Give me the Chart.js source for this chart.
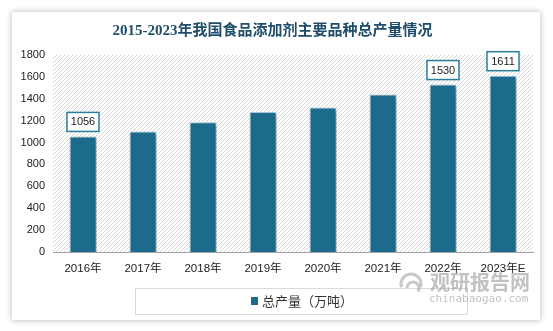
<!DOCTYPE html>
<html lang="zh">
<head>
    <meta charset="UTF-8">
    <title>2015-2023年我国食品添加剂主要品种总产量情况</title>
    <script src="https://cdn.jsdelivr.net/npm/chart.js"></script>
    <style>
        body {
            margin: 0;
            background-color: #ffffff;
        }
        .card {
            position: absolute;
            left: 12px;
            top: 12px;
            width: 528px;
            height: 308px;
            background-color: #ffffff;
            box-shadow: 0 0 6px rgba(0, 0, 0, 0.3);
        }
    </style>
</head>
<body>
    <div class="card"><canvas id="chart"></canvas></div>
    <script>
        // chart data
        const years = ['2016年', '2017年', '2018年', '2019年', '2020年', '2021年', '2022年', '2023年E'];
        const output = [1056, 1100, 1185, 1280, 1320, 1440, 1530, 1611];
        const showValue = [true, false, false, false, false, false, true, true];
        const seriesName = '总产量（万吨）';
        const yTicks = [0, 200, 400, 600, 800, 1000, 1200, 1400, 1600, 1800];

        const barColor = '#1c6a8c';
        const sansFont = '"Liberation Sans", "Noto Sans CJK SC", sans-serif';

        // diagonal hatch for the plot background
        function hatchPattern(ctx) {
            const c = document.createElement('canvas');
            c.width = 4;
            c.height = 4;
            const p = c.getContext('2d');
            p.fillStyle = '#ffffff';
            p.fillRect(0, 0, 4, 4);
            p.strokeStyle = '#d6d6d6';
            p.lineWidth = 1;
            p.beginPath();
            p.moveTo(0, 4);
            p.lineTo(4, 0);
            p.moveTo(-1, 1);
            p.lineTo(1, -1);
            p.moveTo(3, 5);
            p.lineTo(5, 3);
            p.stroke();
            return ctx.createPattern(c, 'repeat');
        }

        const decorPlugin = {
            id: 'decor',
            beforeDatasetsDraw(chart) {
                const { ctx, chartArea } = chart;
                ctx.save();
                ctx.fillStyle = hatchPattern(ctx);
                ctx.fillRect(chartArea.left, chartArea.top, chartArea.right - chartArea.left, chartArea.bottom - chartArea.top);
                ctx.restore();
                // shadow under the bars
                ctx.save();
                ctx.shadowColor = 'rgba(0, 0, 0, 0.35)';
                ctx.shadowOffsetX = 3;
                ctx.shadowOffsetY = 2;
                ctx.shadowBlur = 3;
            },
            afterDatasetsDraw(chart) {
                const { ctx } = chart;
                ctx.restore();

                // value boxes above selected bars
                const meta = chart.getDatasetMeta(0);
                ctx.save();
                ctx.font = '11px ' + sansFont;
                ctx.textAlign = 'center';
                ctx.textBaseline = 'middle';
                meta.data.forEach((bar, i) => {
                    if (!showValue[i]) return;
                    const w = 32, h = 19;
                    const x = bar.x - w / 2;
                    const y = bar.y - 5 - h;
                    ctx.fillStyle = '#ffffff';
                    ctx.fillRect(x, y, w, h);
                    ctx.strokeStyle = '#2b7d9b';
                    ctx.lineWidth = 1.5;
                    ctx.strokeRect(x, y, w, h);
                    ctx.fillStyle = '#222222';
                    ctx.fillText(String(output[i]), bar.x, y + h / 2 + 0.5);
                });
                ctx.restore();
            },
            afterDraw(chart) {
                const { ctx } = chart;
                ctx.save();
                // legend box
                ctx.strokeStyle = '#d9d9d9';
                ctx.lineWidth = 1;
                ctx.strokeRect(123.5, 276.5, 332, 26);
                ctx.fillStyle = barColor;
                ctx.fillRect(239, 285, 7, 8);
                ctx.fillStyle = '#333333';
                ctx.font = '13px "Noto Sans CJK SC", sans-serif';
                ctx.textBaseline = 'middle';
                ctx.fillText(seriesName, 250, 289);

                // watermark
                ctx.globalAlpha = 0.55;
                ctx.strokeStyle = '#9a9a9a';
                ctx.lineWidth = 3;
                ctx.beginPath();
                ctx.arc(399, 272, 10, Math.PI * 0.9, Math.PI * 2.1);
                ctx.stroke();
                ctx.beginPath();
                ctx.arc(401, 276, 6, Math.PI * 1.0, Math.PI * 2.2);
                ctx.stroke();
                ctx.fillStyle = '#8f8f8f';
                ctx.font = 'bold 20px "Noto Sans CJK SC", sans-serif';
                ctx.textBaseline = 'alphabetic';
                ctx.fillText('观研报告网', 418, 278);
                ctx.font = '11px "DejaVu Sans Mono", monospace';
                ctx.fillText('chinabaogao.com', 417, 290);
                ctx.restore();
            }
        };

        new Chart(document.getElementById('chart'), {
            type: 'bar',
            data: {
                labels: years,
                datasets: [{
                    label: seriesName,
                    data: output,
                    backgroundColor: barColor,
                    borderColor: '#a9c9d8',
                    borderWidth: 1,
                    barPercentage: 0.9,
                    categoryPercentage: 0.5
                }]
            },
            options: {
                responsive: true,
                maintainAspectRatio: false,
                animation: false,
                layout: {
                    padding: { left: 0, right: 7, top: 0, bottom: 0 }
                },
                plugins: {
                    legend: { display: false },
                    tooltip: { enabled: false },
                    title: {
                        display: true,
                        text: '2015-2023年我国食品添加剂主要品种总产量情况',
                        color: '#1f4e6b',
                        font: { family: '"Liberation Serif", "Noto Sans CJK SC", serif', size: 15, weight: 'bold' },
                        padding: { top: 10, bottom: 15 }
                    }
                },
                scales: {
                    x: {
                        grid: { display: false, drawTicks: false },
                        border: { display: true, color: '#a6a6a6', width: 1 },
                        ticks: {
                            color: '#222222',
                            font: { family: sansFont, size: 11.5 },
                            padding: 10,
                            maxRotation: 0
                        },
                        afterFit(scale) { scale.height = 68; }
                    },
                    y: {
                        min: 0,
                        max: 1800,
                        grid: { display: false, drawTicks: false },
                        border: { display: false },
                        afterBuildTicks(scale) {
                            scale.ticks = yTicks.map(v => ({ value: v }));
                        },
                        ticks: {
                            color: '#222222',
                            font: { family: sansFont, size: 11 },
                            padding: 8,
                            callback: v => String(v)
                        },
                        afterFit(scale) { scale.width = 41; }
                    }
                }
            },
            plugins: [decorPlugin]
        });
    </script>
</body>
</html>
